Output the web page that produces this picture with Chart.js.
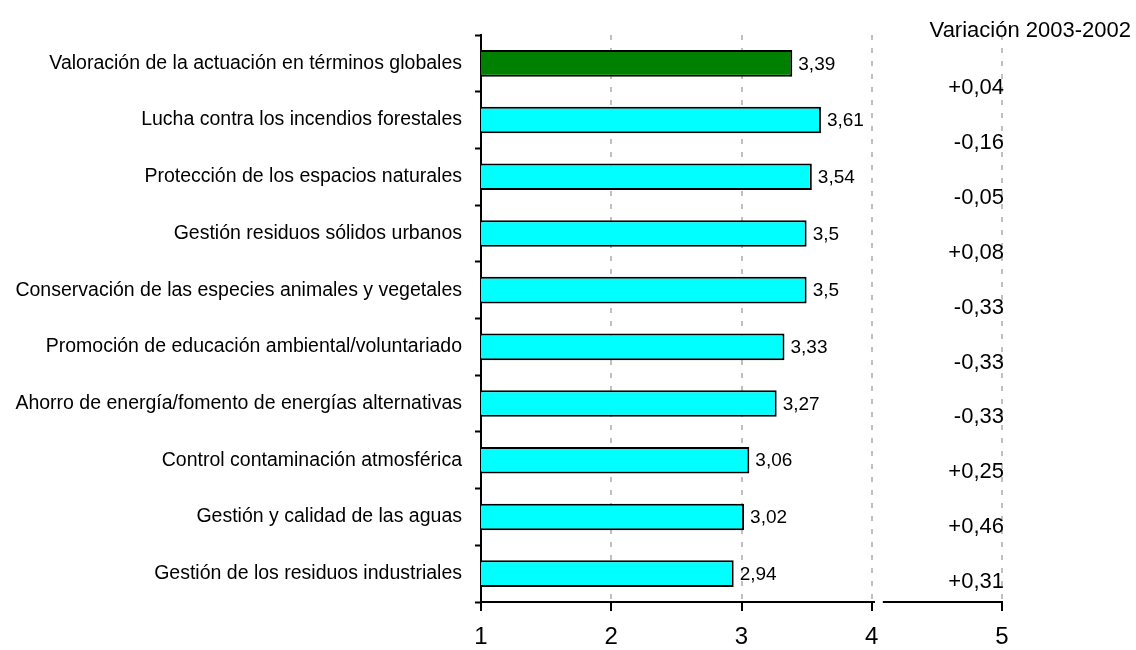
<!DOCTYPE html>
<html>
<head>
<meta charset="utf-8">
<script src="https://cdn.jsdelivr.net/npm/chart.js@4/dist/chart.umd.min.js"></script>
<style>
html,body{margin:0;padding:0;background:#fff;}
#wrap{position:relative;width:1136px;height:650px;}
</style>
</head>
<body>
<div id="wrap"><canvas id="c" width="1136" height="650"></canvas></div>
<script>
const categories = [
  "Valoración de la actuación en términos globales",
  "Lucha contra los incendios forestales",
  "Protección de los espacios naturales",
  "Gestión residuos sólidos urbanos",
  "Conservación de las especies animales y vegetales",
  "Promoción de educación ambiental/voluntariado",
  "Ahorro de energía/fomento de energías alternativas",
  "Control contaminación atmosférica",
  "Gestión y calidad de las aguas",
  "Gestión de los residuos industriales"
];
const values = [3.39, 3.61, 3.54, 3.5, 3.5, 3.33, 3.27, 3.06, 3.02, 2.94];
const variations = ["+0,04", "-0,16", "-0,05", "+0,08", "-0,33", "-0,33", "-0,33", "+0,25", "+0,46", "+0,31"];
const variationTitle = "Variación 2003-2002";
const xTicks = [1, 2, 3, 4, 5];

const FONT = "'Liberation Sans', Arial, sans-serif";
const barColors = values.map((v, i) => i === 0 ? "#008000" : "#00FFFF");

const fmt = v => String(v).replace('.', ',');

const labelsPlugin = {
  id: 'extraLabels',
  afterDatasetsDraw(chart) {
    const ctx = chart.ctx;
    const meta = chart.getDatasetMeta(0);
    const xs = chart.scales.x, ys = chart.scales.y;
    ctx.save();
    // small break in the x axis line (as in the original)
    ctx.strokeStyle = '#fff';
    ctx.lineWidth = 4;
    ctx.beginPath();
    ctx.moveTo(xs.getPixelForValue(4.025), xs.top + 1);
    ctx.lineTo(xs.getPixelForValue(4.085), xs.top + 1);
    ctx.stroke();

    ctx.fillStyle = '#000';
    ctx.font = "19px " + FONT;
    ctx.textBaseline = 'middle';
    ctx.textAlign = 'left';
    meta.data.forEach((bar, i) => {
      ctx.fillText(fmt(values[i]), bar.x + 6, bar.y + 1);
    });
    // variation column
    const catH = (ys.bottom - ys.top) / categories.length;
    const rightX = xs.getPixelForValue(5) + 2;
    ctx.textAlign = 'right';
    ctx.font = "22px " + FONT;
    variations.forEach((t, i) => {
      const y = ys.getPixelForValue(i) + (0.44 - 0.033 * i) * catH;
      ctx.fillText(t, rightX, y);
    });
    ctx.font = "22px " + FONT;
    ctx.textAlign = 'right';
    ctx.fillText(variationTitle, 1131, 31);
    ctx.restore();
  }
};

new Chart(document.getElementById('c'), {
  type: 'bar',
  data: {
    labels: categories,
    datasets: [{
      data: values,
      backgroundColor: barColors,
      borderColor: '#000',
      borderWidth: 2,
      borderSkipped: false,
      barPercentage: 0.47,
      categoryPercentage: 1.0
    }]
  },
  options: {
    indexAxis: 'y',
    responsive: false,
    animation: false,
    devicePixelRatio: 1,
    layout: { padding: { top: 35, right: 134, left: 0, bottom: 0 } },
    plugins: { legend: { display: false }, tooltip: { enabled: false } },
    scales: {
      x: {
        type: 'linear',
        min: 1, max: 5,
        afterBuildTicks: s => { s.ticks = xTicks.map(v => ({ value: v })); },
        afterFit: s => { s.height = 48; },
        grid: {
          display: true,
          drawOnChartArea: true,
          drawTicks: true,
          tickLength: 9,
          tickColor: '#000',
          tickWidth: 2,
          tickBorderDash: [],
          color: ctx => (ctx.tick && ctx.tick.value === 1) ? 'rgba(0,0,0,0)' : '#c0c0c0',
          lineWidth: 2
        },
        border: { display: true, color: '#000', width: 2, dash: [5, 8] },
        ticks: {
          color: '#000',
          font: { family: FONT, size: 24 },
          padding: 12,
          callback: v => String(v)
        }
      },
      y: {
        type: 'category',
        offset: true,
        afterFit: s => { s.width = 481; },
        border: { display: true, color: '#000', width: 2 },
        grid: {
          display: true,
          offset: true,
          drawOnChartArea: false,
          drawTicks: true,
          tickLength: 6,
          tickColor: '#000',
          tickWidth: 2
        },
        ticks: {
          color: '#000',
          font: { family: FONT, size: 19.5 },
          padding: 13
        }
      }
    }
  },
  plugins: [labelsPlugin]
});
</script>
</body>
</html>
